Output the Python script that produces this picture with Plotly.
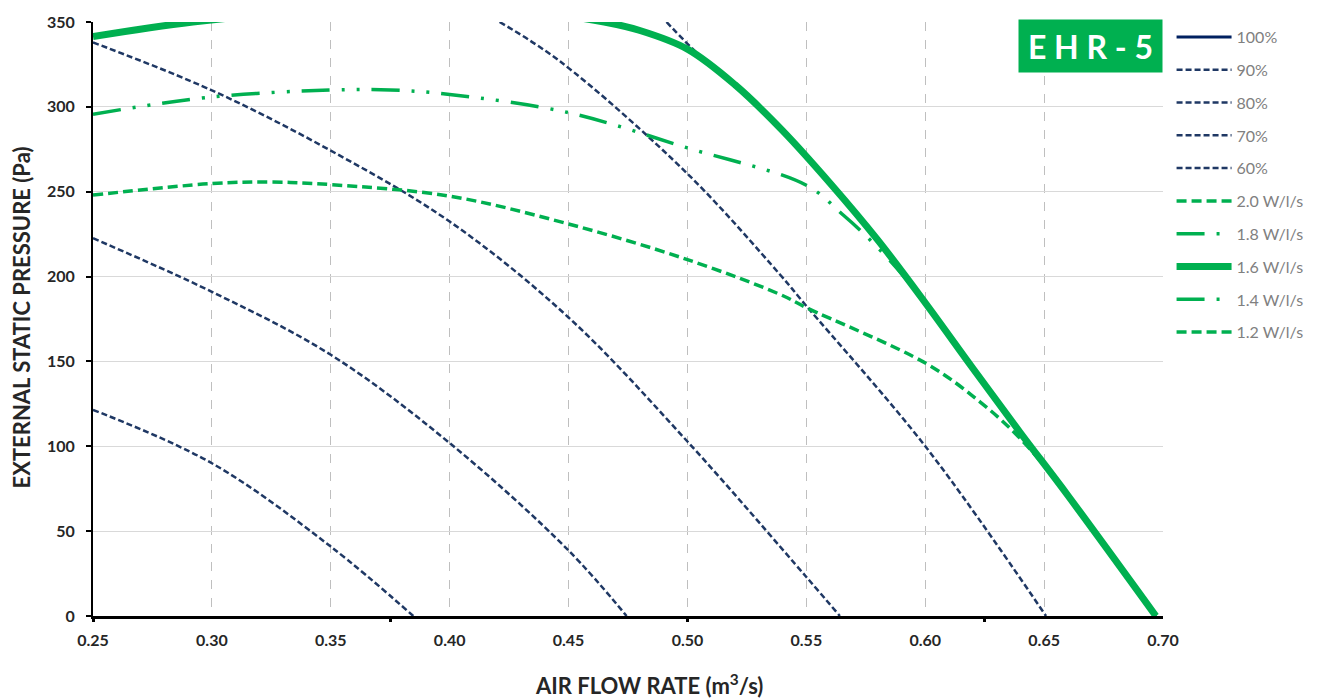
import plotly.graph_objects as go

# ---- data ----
x_100 = [0.48, 0.50, 0.52, 0.54, 0.56, 0.58, 0.60, 0.62, 0.64, 0.66, 0.697]
y_100 = [345, 334, 313, 286, 255, 221.6, 184.6, 146, 108, 71, 0]

x_90 = [0.4912, 0.5053, 0.52, 0.54, 0.56, 0.58, 0.60, 0.62, 0.64, 0.66, 0.697]
y_90 = [350, 330, 313, 286, 255, 221.6, 184.6, 146, 108, 71, 0]

x_80 = [0.421, 0.4464, 0.50, 0.5389, 0.55, 0.6006, 0.6508]
y_80 = [350, 326.8, 260.6, 201.2, 182.7, 99, 0]

x_70 = [0.25, 0.30, 0.35, 0.40, 0.45, 0.50, 0.55, 0.5641]
y_70 = [338, 309.7, 274.2, 232.4, 175.9, 102.8, 23, 0]

x_60 = [0.25, 0.30, 0.35, 0.40, 0.45, 0.4744]
y_60 = [222.6, 191, 153.9, 101.9, 38.6, 0]

x_50 = [0.25, 0.30, 0.35, 0.3847]
y_50 = [121.5, 90, 40.9, 0]

x_w20 = [0.25, 0.35, 0.45]
y_w20 = [455, 465, 430]

x_w18 = [0.25, 0.35, 0.45]
y_w18 = [400, 410, 385]

x_w16 = [0.25, 0.292, 0.35, 0.40, 0.44, 0.465, 0.48, 0.50, 0.52, 0.54, 0.56, 0.58, 0.60, 0.62, 0.64, 0.66, 0.697]
y_w16 = [341.4, 350, 357, 359, 355, 350, 345, 334, 313, 286, 255, 221.6, 184.6, 146, 108, 71, 0]

x_w14 = [0.25, 0.30, 0.35, 0.375, 0.40, 0.45, 0.50, 0.55, 0.5655, 0.5754, 0.588, 0.60, 0.62, 0.64, 0.66, 0.697]
y_w14 = [295.7, 305.8, 309.9, 310, 307.3, 296.6, 275.8, 253.8, 236.3, 223.6, 205, 184.6, 146, 108, 71, 0]

x_w12 = [0.25, 0.30, 0.325, 0.35, 0.40, 0.45, 0.50, 0.5389, 0.55, 0.6006, 0.623, 0.6398, 0.66, 0.697]
y_w12 = [248, 254.8, 255.7, 254.2, 247.4, 231, 210, 189.5, 181.7, 148.6, 126.2, 104.8, 71, 0]

x_ticks = [0.25, 0.30, 0.35, 0.40, 0.45, 0.50, 0.55, 0.60, 0.65, 0.70]
x_major_marks = [0.25, 0.375, 0.50, 0.625]

NAVY = "#1F3864"
NAVY_SOLID = "#002060"
GREEN = "#00B050"
FONT = "Lato"

fig = go.Figure()

def add(x, y, name, color, width, dash, show=True):
    fig.add_trace(go.Scatter(
        x=x, y=y, mode="lines", name=name, legendgroup=name,
        showlegend=show,
        line=dict(color=color, width=width, dash=dash, shape="spline", smoothing=1.0),
        hoverinfo="skip"))

add(x_100, y_100, "100%", NAVY_SOLID, 3, "solid")
add(x_90, y_90, "90%", NAVY, 2.5, "6px,3px")
add(x_80, y_80, "80%", NAVY, 2.5, "6px,3px")
add(x_70, y_70, "70%", NAVY, 2.5, "6px,3px")
add(x_60, y_60, "60%", NAVY, 2.5, "6px,3px")
add(x_50, y_50, "50%", NAVY, 2.5, "6px,3px", show=False)
add(x_w20, y_w20, "2.0 W/l/s", GREEN, 3.5, "10px,5px")
add(x_w18, y_w18, "1.8 W/l/s", GREEN, 3.5, "28px,12px,3px,12px,3px,12px")
add(x_w16, y_w16, "1.6 W/l/s", GREEN, 7, "solid")
add(x_w14, y_w14, "1.4 W/l/s", GREEN, 3.5, "28px,12px,3px,12px,3px,12px")
add(x_w12, y_w12, "1.2 W/l/s", GREEN, 3.5, "10px,5px")

# invisible trace to host the tick-mark axis
fig.add_trace(go.Scatter(x=[0.25], y=[0], xaxis="x2", mode="markers",
                         marker=dict(opacity=0), showlegend=False, hoverinfo="skip"))

fig.update_layout(
    width=1324, height=698,
    margin=dict(l=93, r=161, t=17, b=82),
    paper_bgcolor="white", plot_bgcolor="white",
    font=dict(family=FONT, color="#262626"),
    xaxis=dict(
        range=[0.25, 0.70], tickvals=x_ticks, tickformat=".2f",
        ticks="", showgrid=True, gridcolor="#bfbfbf", griddash="dash", gridwidth=1,
        showline=True, linecolor="black", linewidth=3, zeroline=False,
        ticklabelstandoff=8,
        tickfont=dict(family=FONT, size=16, color="#262626", weight="bold"),
    ),
    xaxis2=dict(
        range=[0.25, 0.70], overlaying="x", anchor="y", side="bottom",
        tickvals=x_major_marks, ticks="outside", ticklen=5, tickwidth=3,
        tickcolor="black", showticklabels=False, showgrid=False, showline=False,
        zeroline=False,
    ),
    yaxis=dict(
        range=[0, 350], dtick=50, ticks="outside", ticklen=5, tickwidth=2,
        tickcolor="black", showgrid=True, gridcolor="#d9d9d9", gridwidth=1,
        showline=True, linecolor="black", linewidth=2, zeroline=False,
        ticklabelstandoff=8,
        tickfont=dict(family=FONT, size=16, color="#262626", weight="bold"),
    ),
    legend=dict(
        x=1.008, xanchor="left", y=1.0 + 2 / 599, yanchor="top",
        font=dict(family=FONT, size=16, color="#808080"),
        itemwidth=55, tracegroupgap=9, bgcolor="rgba(0,0,0,0)",
        traceorder="grouped",
    ),
    showlegend=True,
)

# axis titles
fig.add_annotation(
    xref="paper", yref="paper", x=(649 - 93) / 1070, y=(616 - 685) / 599,
    xanchor="center", yanchor="middle", showarrow=False,
    text="AIR FLOW RATE (m<sup>3</sup>/s)",
    font=dict(family=FONT, size=22, color="#262626", weight="bold"),
)
fig.add_annotation(
    xref="paper", yref="paper", x=(22 - 93) / 1070, y=(616 - 315) / 599,
    xanchor="center", yanchor="middle", showarrow=False, textangle=-90,
    text="EXTERNAL STATIC PRESSURE (Pa)",
    font=dict(family=FONT, size=22, color="#262626", weight="bold"),
)

fig.add_annotation(
    xref="paper", yref="paper", x=1.0, y=1.0 + 3 / 599, xanchor="right", yanchor="top",
    text="E H R - 5", showarrow=False, bgcolor=GREEN, width=135, height=44,
    borderpad=4, font=dict(family=FONT, size=32, color="white", weight="bold"),
)

fig.write_html("out.html")
